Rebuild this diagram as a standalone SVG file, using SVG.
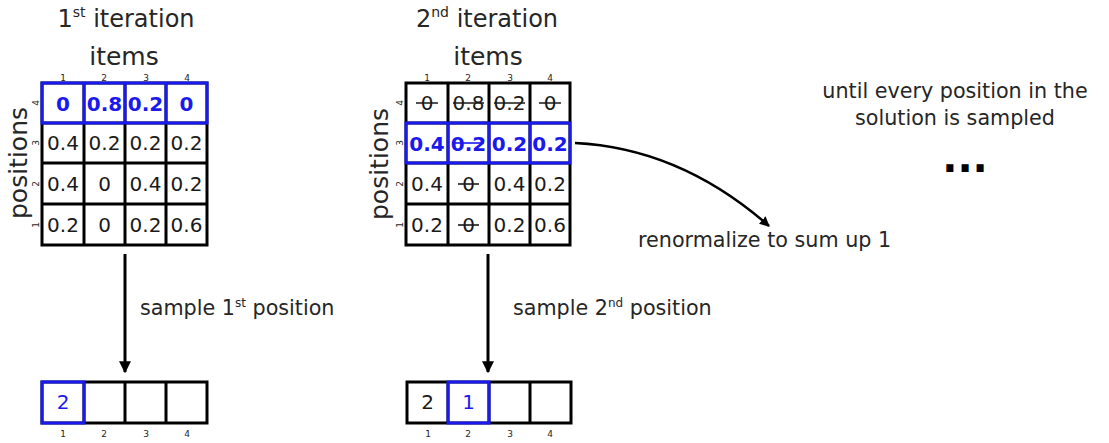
<svg xmlns="http://www.w3.org/2000/svg" width="1109" height="443" viewBox="0 0 1109 443">
<defs>
<style>
text{font-family:"DejaVu Sans","Liberation Sans",sans-serif;}
.lbl{fill:#262626;font-size:20.7px;}
.title{fill:#262626;font-size:24px;text-anchor:middle;}
.axis{fill:#262626;font-size:25px;text-anchor:middle;}
.idx{fill:#262626;font-size:9px;text-anchor:middle;}
.num{fill:#1a1a1a;font-size:20px;text-anchor:middle;}
.bnum{fill:#1a1aee;font-size:20px;font-weight:bold;text-anchor:middle;}
.cell{fill:#fff;stroke:#000;stroke-width:3;}
.blue{fill:none;stroke:#1a1aee;stroke-width:3;}
.strike{stroke:#1a1a1a;stroke-width:1.6;}
.bstrike{stroke:#1a1aee;stroke-width:1.6;}
.conn{fill:none;stroke:#000;stroke-width:3;}
</style>
<marker id="ah" viewBox="0 0 10 10" refX="9" refY="5" markerWidth="4" markerHeight="4" orient="auto" markerUnits="strokeWidth">
<path d="M0,0 L10,5 L0,10 z" fill="#000"/>
</marker>
</defs>
<rect width="1109" height="443" fill="#fff"/>

<g id="iter1">
<text class="title" x="126" y="27">1<tspan font-size="14" dy="-10">st</tspan><tspan dy="10"> iteration</tspan></text>
<text class="axis" x="124" y="65">items</text>
<text class="axis" transform="translate(27,163) rotate(-90)">positions</text>
<g>
<rect class="cell" x="42" y="83" width="165" height="162"/>
<path d="M84,83V245M125,83V245M166,83V245M42,123H207M42,163H207M42,204H207" stroke="#000" stroke-width="3"/>
<rect class="blue" x="42" y="83" width="165" height="40"/>
<path d="M84,83V123M125,83V123M166,83V123" stroke="#1a1aee" stroke-width="3"/>
</g>
<g class="idx">
<text x="63" y="81">1</text><text x="104" y="81">2</text><text x="146" y="81">3</text><text x="187" y="81">4</text>
<text transform="translate(39,103) rotate(-90)">4</text>
<text transform="translate(39,143) rotate(-90)">3</text>
<text transform="translate(39,184) rotate(-90)">2</text>
<text transform="translate(39,225) rotate(-90)">1</text>
</g>
<text class="bnum" x="63" y="111">0</text>
<text class="bnum" x="104.5" y="111">0.8</text>
<text class="bnum" x="145.5" y="111">0.2</text>
<text class="bnum" x="186.5" y="111">0</text>
<text class="num" x="63" y="150">0.4</text>
<text class="num" x="104.5" y="150">0.2</text>
<text class="num" x="145.5" y="150">0.2</text>
<text class="num" x="186.5" y="150">0.2</text>
<text class="num" x="63" y="191">0.4</text>
<text class="num" x="104.5" y="191">0</text>
<text class="num" x="145.5" y="191">0.4</text>
<text class="num" x="186.5" y="191">0.2</text>
<text class="num" x="63" y="232">0.2</text>
<text class="num" x="104.5" y="232">0</text>
<text class="num" x="145.5" y="232">0.2</text>
<text class="num" x="186.5" y="232">0.6</text>
</g>

<g id="solution1">
<rect class="cell" x="42" y="382" width="165" height="41"/>
<path d="M84,382V423M125,382V423M166,382V423" stroke="#000" stroke-width="3"/>
<rect class="blue" x="42" y="382" width="42" height="41"/>
<text class="bnum" style="font-weight:normal" x="63" y="409">2</text>
<g class="idx">
<text x="63" y="437">1</text><text x="104" y="437">2</text><text x="146" y="437">3</text><text x="187" y="437">4</text>
</g>
</g>

<g id="iter2">
<text class="title" x="487" y="27">2<tspan font-size="14" dy="-10">nd</tspan><tspan dy="10"> iteration</tspan></text>
<text class="axis" x="488" y="65">items</text>
<text class="axis" transform="translate(388,164) rotate(-90)">positions</text>
<rect class="cell" x="406" y="83" width="164" height="162"/>
<path d="M448,83V245M489,83V245M530,83V245M406,123H570M406,163H570M406,204H570" stroke="#000" stroke-width="3"/>
<rect class="blue" x="406" y="123" width="164" height="40"/>
<path d="M448,123V163M489,123V163M530,123V163" stroke="#1a1aee" stroke-width="3"/>
<g class="idx">
<text x="427" y="81">1</text><text x="468" y="81">2</text><text x="510" y="81">3</text><text x="550" y="81">4</text>
<text transform="translate(403,103) rotate(-90)">4</text>
<text transform="translate(403,143) rotate(-90)">3</text>
<text transform="translate(403,184) rotate(-90)">2</text>
<text transform="translate(403,225) rotate(-90)">1</text>
</g>
<text class="num" x="427" y="110">0</text>
<text class="num" x="468.5" y="110">0.8</text>
<text class="num" x="509.5" y="110">0.2</text>
<text class="num" x="550" y="110">0</text>
<path class="strike" d="M416,103H438M453,103H484M494,103H525M539,103H561"/>
<text class="bnum" x="427" y="151">0.4</text>
<text class="bnum" x="468.5" y="151">0.2</text>
<text class="bnum" x="509.5" y="151">0.2</text>
<text class="bnum" x="550" y="151">0.2</text>
<path class="bstrike" d="M453,143H484"/>
<text class="num" x="427" y="191">0.4</text>
<text class="num" x="468.5" y="191">0</text>
<text class="num" x="509.5" y="191">0.4</text>
<text class="num" x="550" y="191">0.2</text>
<path class="strike" d="M458,184H479"/>
<text class="num" x="427" y="232">0.2</text>
<text class="num" x="468.5" y="232">0</text>
<text class="num" x="509.5" y="232">0.2</text>
<text class="num" x="550" y="232">0.6</text>
<path class="strike" d="M458,225H479"/>
</g>

<g id="solution2">
<rect class="cell" x="407" y="382" width="164" height="41"/>
<path d="M448,382V423M489,382V423M530,382V423" stroke="#000" stroke-width="3"/>
<rect class="blue" x="448" y="382" width="41" height="41"/>
<text class="num" x="427.5" y="409">2</text>
<text class="bnum" style="font-weight:normal" x="468.5" y="409">1</text>
<g class="idx">
<text x="428" y="437">1</text><text x="468" y="437">2</text><text x="510" y="437">3</text><text x="550" y="437">4</text>
</g>
</g>

<g id="note">
<text class="lbl" x="955" y="98" text-anchor="middle">until every position in the</text>
<text class="lbl" x="955" y="125" text-anchor="middle">solution is sampled</text>
<text x="965" y="172" text-anchor="middle" font-size="40" font-weight="bold" fill="#000">...</text>
</g>

<g id="connectors">
<path class="conn" d="M125,254V372" marker-end="url(#ah)"/>
<path class="conn" d="M488,254V372" marker-end="url(#ah)"/>
<path class="conn" style="stroke-width:2.5" d="M575,143Q680,148 769,226" marker-end="url(#ah)"/>
<text class="lbl" x="140" y="315">sample 1<tspan font-size="12" dy="-8">st</tspan><tspan dy="8"> position</tspan></text>
<text class="lbl" x="513" y="315">sample 2<tspan font-size="12" dy="-8">nd</tspan><tspan dy="8"> position</tspan></text>
<text class="lbl" x="638" y="247">renormalize to sum up 1</text>
</g>
</svg>
